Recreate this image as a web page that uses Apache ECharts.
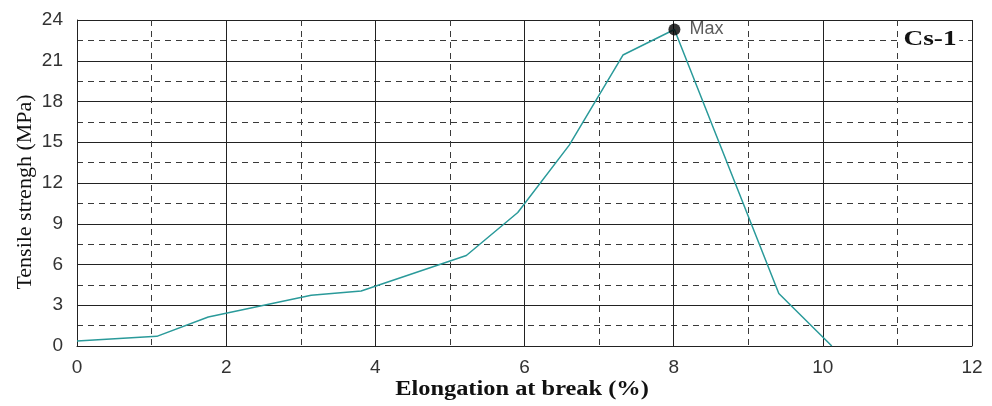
<!DOCTYPE html>
<html><head><meta charset="utf-8">
<script src="https://cdn.jsdelivr.net/npm/echarts@6/dist/echarts.min.js"></script>
<style>html,body{margin:0;padding:0;background:#fff}#c{width:992px;height:406px}</style>
</head><body><div id="c"></div>
<script>
const elongation = [0, 1.07, 1.76, 3.14, 3.81, 5.22, 5.91, 6.60, 7.32, 8.01, 9.41, 10.12];
const strength   = [0.37, 0.71, 2.14, 3.73, 4.05, 6.66, 9.83, 14.79, 21.42, 23.3, 3.86, 0];
const maxPoint = [8.01, 23.3];
const xName = 'Elongation at break (%)';
const yName = 'Tensile strengh (MPa)';
const tag = 'Cs-1';

const chart = echarts.init(document.getElementById('c'));
const tickFont = {fontFamily: 'Liberation Sans', fontSize: 19, color: '#333'};
chart.setOption({
  animation: false,
  grid: {left: 77, top: 20, right: 20, bottom: 60, outerBoundsMode: 'none', containLabel: false},
  xAxis: {
    type: 'value', min: 0, max: 12, interval: 2,
    axisLine: {show: true, lineStyle: {color: '#222', width: 1}},
    axisTick: {show: false},
    axisLabel: Object.assign({margin: 12}, tickFont),
    splitLine: {show: true, lineStyle: {color: '#222', width: 1, type: 'solid'}},
    minorTick: {show: false, splitNumber: 2},
    minorSplitLine: {show: true, lineStyle: {color: '#3a3a3a', width: 1, type: [6, 5]}}
  },
  yAxis: {
    type: 'value', min: 0, max: 24, interval: 3,
    axisLine: {show: true, lineStyle: {color: '#222', width: 1}},
    axisTick: {show: false},
    axisLabel: Object.assign({margin: 14}, tickFont),
    splitLine: {show: true, lineStyle: {color: '#222', width: 1, type: 'solid'}},
    minorTick: {show: false, splitNumber: 2},
    minorSplitLine: {show: true, lineStyle: {color: '#3a3a3a', width: 1, type: [6, 5]}}
  },
  series: [
    {
      type: 'line', data: elongation.map((x, i) => [x, strength[i]]),
      showSymbol: false, lineStyle: {color: '#2a9a9a', width: 1.5}, z: 3
    },
    {
      type: 'scatter', data: [maxPoint], symbolSize: 12,
      itemStyle: {color: '#000'}, z: 4,
      label: {show: true, position: 'right', formatter: 'Max', distance: 9,
        fontFamily: 'Liberation Sans', fontSize: 18, color: '#333'}
    }
  ],
  graphic: [
    {
      type: 'text', x: 522, y: 390, scaleX: 1.22, z: 10,
      style: {text: xName, font: 'bold 20px "Liberation Serif"', fill: '#111',
        align: 'center', verticalAlign: 'middle'}
    },
    {
      type: 'text', x: 26, y: 192, rotation: Math.PI / 2, scaleX: 1.1, z: 10,
      style: {text: yName, font: '20px "Liberation Serif"', fill: '#111',
        align: 'center', verticalAlign: 'middle'}
    },
    {
      type: 'text', x: 930, y: 40, scaleX: 1.3, z: 10,
      style: {text: tag, font: 'bold 21px "Liberation Serif"', fill: '#111',
        align: 'center', verticalAlign: 'middle', backgroundColor: '#fff', padding: [0, 2]}
    }
  ]
});
</script></body></html>
